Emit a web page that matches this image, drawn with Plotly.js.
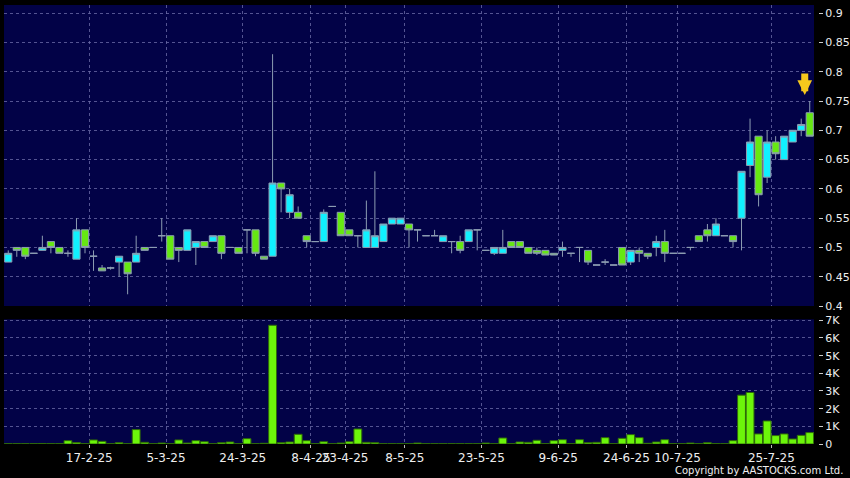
<!DOCTYPE html>
<html>
<head>
<meta charset="utf-8">
<script src="https://cdn.plot.ly/plotly-3.0.1.min.js"></script>
<style>
  html, body { margin: 0; padding: 0; background: #000; }
  #chart { width: 850px; height: 478px; }
</style>
</head>
<body>
<div id="chart"></div>
<script>
// Daily OHLC (one entry per traded day, left to right)
var opens  = [0.475,0.50,0.50,0.49,0.495,0.51,0.50,0.49,0.48,0.53,
              0.485,0.465,0.465,0.475,0.475,0.475,0.50,0.50,0.52,0.52,
              0.50,0.495,0.50,0.51,0.51,0.52,0.50,0.50,0.53,0.53,
              0.485,0.485,0.61,0.56,0.56,0.52,0.51,0.51,0.57,0.56,
              0.53,0.52,0.50,0.50,0.51,0.54,0.54,0.54,0.53,0.52,
              0.52,0.51,0.51,0.51,0.51,0.53,0.495,0.49,0.49,0.51,
              0.51,0.50,0.495,0.495,0.49,0.495,0.49,0.50,0.495,0.47,
              0.475,0.47,0.50,0.475,0.495,0.49,0.50,0.51,0.49,0.49,
              0.50,0.52,0.53,0.52,0.52,0.52,0.55,0.64,0.69,0.62,
              0.68,0.65,0.68,0.70,0.73];
var highs  = [0.495,0.50,0.50,0.49,0.52,0.51,0.50,0.495,0.55,0.53,
              0.495,0.47,0.467,0.485,0.475,0.52,0.50,0.50,0.55,0.52,
              0.50,0.53,0.51,0.51,0.52,0.52,0.50,0.50,0.53,0.53,
              0.485,0.83,0.61,0.60,0.57,0.52,0.51,0.565,0.57,0.56,
              0.53,0.52,0.58,0.63,0.54,0.55,0.55,0.54,0.53,0.52,
              0.53,0.52,0.51,0.52,0.53,0.53,0.495,0.50,0.53,0.51,
              0.51,0.50,0.50,0.495,0.49,0.51,0.49,0.50,0.495,0.47,
              0.48,0.47,0.50,0.495,0.50,0.49,0.52,0.53,0.49,0.49,
              0.50,0.52,0.54,0.55,0.52,0.52,0.63,0.72,0.69,0.70,
              0.69,0.69,0.70,0.72,0.75];
var lows   = [0.475,0.484,0.48,0.49,0.495,0.49,0.49,0.484,0.48,0.49,
              0.46,0.46,0.462,0.45,0.42,0.475,0.495,0.50,0.51,0.48,
              0.475,0.495,0.47,0.50,0.51,0.48,0.50,0.49,0.49,0.485,
              0.48,0.485,0.56,0.55,0.55,0.50,0.51,0.51,0.57,0.52,
              0.52,0.50,0.50,0.50,0.51,0.54,0.54,0.50,0.51,0.52,
              0.52,0.51,0.49,0.49,0.51,0.495,0.495,0.487,0.49,0.50,
              0.50,0.49,0.487,0.487,0.487,0.484,0.484,0.475,0.47,0.47,
              0.47,0.47,0.47,0.47,0.475,0.48,0.485,0.475,0.49,0.49,
              0.495,0.51,0.51,0.52,0.52,0.50,0.495,0.62,0.57,0.61,
              0.65,0.65,0.68,0.69,0.69];
var closes = [0.49,0.495,0.485,0.49,0.50,0.50,0.49,0.49,0.53,0.50,
              0.485,0.46,0.465,0.485,0.455,0.49,0.495,0.50,0.52,0.48,
              0.495,0.53,0.51,0.50,0.52,0.49,0.50,0.49,0.53,0.49,
              0.48,0.61,0.60,0.59,0.55,0.51,0.51,0.56,0.57,0.52,
              0.52,0.52,0.53,0.52,0.54,0.55,0.55,0.53,0.53,0.52,
              0.52,0.52,0.51,0.495,0.53,0.53,0.495,0.50,0.50,0.50,
              0.50,0.49,0.49,0.487,0.487,0.50,0.49,0.50,0.475,0.47,
              0.475,0.47,0.47,0.495,0.49,0.485,0.51,0.49,0.49,0.49,
              0.50,0.51,0.52,0.54,0.52,0.51,0.63,0.68,0.59,0.68,
              0.66,0.69,0.70,0.71,0.69];
// Daily volume (shares)
var volumes = [15,15,15,15,30,15,15,190,80,15,
               230,150,15,75,15,815,95,15,55,15,
               230,55,190,130,15,75,115,15,300,15,
               40,6720,75,115,550,190,15,130,15,55,
               130,850,95,75,15,15,15,15,55,15,
               15,15,15,15,15,15,55,15,340,15,
               115,95,210,15,190,245,15,245,75,95,
               360,15,320,530,360,40,115,245,15,15,
               55,15,75,20,15,190,2765,2915,570,1305,
               475,570,285,490,645];
// Date labels and the index of the first traded day they mark
var tickLabels = ['17-2-25','5-3-25','24-3-25','8-4-25','23-4-25','8-5-25','23-5-25','9-6-25','24-6-25','10-7-25','25-7-25'];
var tickIndex  = [10,19,28,36,40,47,56,65,73,79,90];
var priceTicks = [0.4,0.45,0.5,0.55,0.6,0.65,0.7,0.75,0.8,0.85,0.9];
var priceTickText = ['0.4','0.45','0.5','0.55','0.6','0.65','0.7','0.75','0.8','0.85','0.9'];
var volTicks = [0,1000,2000,3000,4000,5000,6000,7000];
var volTickText = ['0','1K','2K','3K','4K','5K','6K','7K'];

var xs = opens.map(function(_, i){ return i; });
var gridCol = 'rgba(105,105,165,0.8)';
var font = 'DejaVu Sans, Verdana, sans-serif';

var candle = {
  type: 'candlestick', x: xs, open: opens, high: highs, low: lows, close: closes,
  xaxis: 'x', yaxis: 'y',
  increasing: {line: {color: '#8d9db2', width: 1}, fillcolor: '#10f0ff'},
  decreasing: {line: {color: '#8d9db2', width: 1}, fillcolor: '#66e812'},
  whiskerwidth: 0, hoverinfo: 'skip', showlegend: false
};
var vol = {
  type: 'bar', x: xs, y: volumes, xaxis: 'x2', yaxis: 'y2',
  marker: {color: '#6cf50a', line: {color: '#2f6a08', width: 1}},
  hoverinfo: 'skip', showlegend: false
};

var xDom = [0, 810/814];
var tv = tickIndex.map(function(i){ return i - 0.5; });
var layout = {
  width: 850, height: 478,
  margin: {l: 4, r: 32, t: 5, b: 34},
  paper_bgcolor: '#000000', plot_bgcolor: '#020247',
  hovermode: false, showlegend: false,
  boxgap: 0.16, boxgroupgap: 0, bargap: 0.08,
  font: {family: font, color: '#eeeeee', size: 11},
  xaxis: {domain: xDom, anchor: 'y', range: [-0.5, xs.length - 0.5],
          tickvals: tv, ticktext: tickLabels, showticklabels: false, ticks: '',
          showgrid: true, gridcolor: gridCol, griddash: '3px,3px', gridwidth: 1,
          zeroline: false, showline: false, rangeslider: {visible: false}, fixedrange: true},
  xaxis2: {domain: xDom, anchor: 'y2', matches: 'x', range: [-0.5, xs.length - 0.5],
           tickvals: tv, ticktext: tickLabels, ticks: 'outside', ticklen: 3, tickcolor: '#bbbbbb',
           tickangle: 0, automargin: false,
           tickfont: {family: font, size: 12, color: '#eeeeee'},
           showgrid: true, gridcolor: gridCol, griddash: '3px,3px', gridwidth: 1,
           zeroline: false, showline: false, fixedrange: true},
  yaxis: {domain: [0.31435, 1], range: [0.4, 0.914], side: 'right', anchor: 'free', position: 1,
          tickvals: priceTicks, ticktext: priceTickText, ticks: 'outside', ticklen: 4, tickcolor: '#cccccc',
          tickfont: {family: font, size: 11, color: '#eeeeee'}, automargin: false,
          showgrid: true, gridcolor: gridCol, griddash: '3px,3px', gridwidth: 1,
          zeroline: false, showline: false, fixedrange: true},
  yaxis2: {domain: [0, 0.28405], range: [0, 7057], side: 'right', anchor: 'free', position: 1,
           tickvals: volTicks, ticktext: volTickText, ticks: 'outside', ticklen: 4, tickcolor: '#cccccc',
           tickfont: {family: font, size: 11, color: '#eeeeee'}, automargin: false,
           showgrid: true, gridcolor: gridCol, griddash: '3px,3px', gridwidth: 1,
           zeroline: false, showline: false, fixedrange: true},
  annotations: [
    {xref: 'x', yref: 'y', x: xs[xs.length - 1], y: highs[highs.length - 1], text: '',
     showarrow: true, ax: 0, ay: -29, xshift: -5, standoff: 6,
     arrowhead: 2, arrowsize: 0.42, arrowwidth: 7, arrowcolor: '#f6c81c'},
    {xref: 'paper', yref: 'paper', x: 841/814, y: -26/439, xanchor: 'right', yanchor: 'middle',
     text: 'Copyright by AASTOCKS.com Ltd.', showarrow: false,
     font: {family: font, size: 10, color: '#f0f0f0'}}
  ]
};

Plotly.newPlot('chart', [candle, vol], layout, {displayModeBar: false, staticPlot: true});
</script>
</body>
</html>
